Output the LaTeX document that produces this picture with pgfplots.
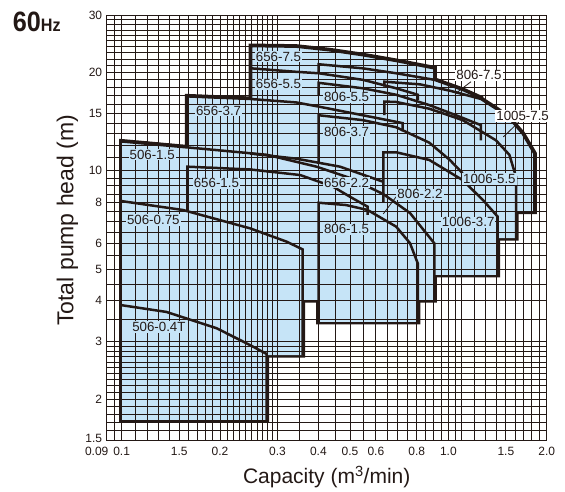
\documentclass[border=0pt]{standalone}
\usepackage{fontspec}
\setmainfont{Liberation Sans}
\usepackage{graphicx}
\usepackage{pgfplots}
\pgfplotsset{compat=1.18}
\usepackage{pgfplotstable}
\definecolor{fillb}{RGB}{198,228,247}
\definecolor{ink}{RGB}{35,24,21}
\pgfdeclarelayer{bgoutline}
\pgfdeclarelayer{bgfill}
\pgfplotsset{layers/mylayers/.define layer set={bgoutline,bgfill,axis background,axis grid,axis ticks,axis lines,axis tick labels,pre main,main,axis descriptions,axis foreground}{}}
\tikzset{lbl/.style={font=\fontsize{13.3}{14}\selectfont, text=ink, inner sep=1pt, fill=fillb}}

% ---------- operating regions (closed polygons) ----------
\pgfplotstableread{
x y
0.1 1.73
0.1 3.88
0.137 3.70
0.195 3.30
0.247 2.93
0.278 2.75
0.278 1.73
}\Ra
\pgfplotstableread{
x y
0.1 2.73
0.1 8.08
0.154 7.59
0.247 6.67
0.32 6.07
0.358 5.75
0.358 2.73
}\Rb
\pgfplotstableread{
x y
0.1 4.02
0.1 12.3
0.174 11.7
0.278 11.2
0.395 10.3
0.5 9.51
0.632 8.49
0.763 7.43
0.906 6.0
0.906 4.02
}\Rc
\pgfplotstableread{
x y
0.159 5.0
0.159 16.9
0.247 16.6
0.342 16.2
0.405 15.7
0.547 14.8
0.725 14.0
0.725 5.0
}\Rd
\pgfplotstableread{
x y
0.249 5.0
0.249 24.1
0.342 24.0
0.432 23.4
0.547 22.6
0.692 21.7
0.906 20.6
0.906 5.0
}\Re
\pgfplotstableread{
x y
0.401 5.0
0.401 21.2
0.547 20.6
0.692 19.9
0.906 19.0
1.106 17.7
1.258 16.7
1.258 5.0
}\Rf
\pgfplotstableread{
x y
0.637 7.5
0.637 18.75
0.819 18.4
1.01 17.6
1.258 16.6
1.399 15.5
1.537 14.5
1.688 13.0
1.833 11.3
1.833 7.5
}\Rg
\pgfplotstableread{
x y
0.637 6.22
0.637 16.3
0.692 16.25
0.874 15.5
1.106 14.3
1.399 12.4
1.537 11.2
1.611 9.6
1.611 6.22
}\Rh
\pgfplotstableread{
x y
0.632 4.8
0.632 11.4
0.692 11.4
0.874 10.8
1.106 9.37
1.276 8.14
1.416 7.24
1.416 4.8
}\Ri
\pgfplotstableread{
x y
0.401 3.45
0.401 7.99
0.486 7.86
0.566 7.59
0.692 6.75
0.763 6.01
0.806 5.21
0.806 3.45
}\Rj
\pgfplotstableread{
x y
0.247 9.0
0.247 11.3
0.342 10.9
0.466 10.3
0.632 9.26
0.632 9.0
}\Rk

\begin{document}
\begin{tikzpicture}
\begin{axis}[
  set layers=mylayers,
  at={(0,0)}, anchor=south west,
  scale only axis, width=440pt, height=425pt,
  xmode=log, ymode=log,
  xmin=0.09, xmax=2.0, ymin=1.5, ymax=30,
  xtick={0.09,0.1,0.15,0.2,0.3,0.4,0.5,0.6,0.8,1.0,1.5,2.0},
  xticklabels={{\hspace*{-20pt}0.09},0.1,1.5,0.2,0.3,0.4,0.5,0.6,0.8,1.0,1.5,2.0},
  ytick={1.5,2,3,4,5,6,8,10,15,20,30},
  yticklabels={{\raisebox{2.5pt}{1.5}},2,3,4,5,6,8,10,15,20,30},
  minor xtick={0.095,0.11,0.12,0.13,0.14,0.16,0.17,0.18,0.19,0.21,0.22,0.23,0.24,0.25,0.26,0.27,0.28,0.29,0.35,0.45,0.55,0.65,0.7,0.75,0.85,0.9,0.95,1.05,1.1,1.2,1.3,1.4,1.6,1.7,1.8,1.9},
  minor ytick={1.6,1.7,1.8,1.9,2.1,2.2,2.3,2.4,2.5,2.6,2.7,2.8,2.9,3.5,4.5,5.5,6.5,7,7.5,8.5,9,9.5,11,12,13,14,16,17,18,19,21,22,23,24,25,26,27,28,29},
  grid=both,
  major grid style={draw=ink, line width=0.8pt},
  minor grid style={draw=ink, line width=0.8pt},
  major tick length=0pt, minor tick length=0pt,
  axis line style={draw=ink, line width=0.9pt},
  tick label style={font=\fontsize{12}{13}\selectfont, text=ink},
  xticklabel style={yshift=-3.5pt},
  yticklabel style={xshift=-1pt},
  xlabel={Capacity (m\textsuperscript{3}/min)},
  ylabel={Total pump head (m)},
  xlabel style={font=\fontsize{21}{23}\selectfont, text=ink, at={(axis description cs:0.5,-0.087)}, anchor=center},
  ylabel style={font=\fontsize{23}{25}\selectfont, text=ink, at={(axis description cs:-0.089,0.517)}, anchor=center},
  clip=false,
]
% --- outer outline (doubled width, inner half hidden by fills) ---
\addplot[on layer=bgoutline, draw=ink, line width=5pt, line join=miter, mark=none] table {\Ra} -- cycle;
\addplot[on layer=bgoutline, draw=ink, line width=5pt, line join=miter, mark=none] table {\Rb} -- cycle;
\addplot[on layer=bgoutline, draw=ink, line width=5pt, line join=miter, mark=none] table {\Rc} -- cycle;
\addplot[on layer=bgoutline, draw=ink, line width=5pt, line join=miter, mark=none] table {\Rd} -- cycle;
\addplot[on layer=bgoutline, draw=ink, line width=5pt, line join=miter, mark=none] table {\Re} -- cycle;
\addplot[on layer=bgoutline, draw=ink, line width=5pt, line join=miter, mark=none] table {\Rf} -- cycle;
\addplot[on layer=bgoutline, draw=ink, line width=5pt, line join=miter, mark=none] table {\Rg} -- cycle;
\addplot[on layer=bgoutline, draw=ink, line width=5pt, line join=miter, mark=none] table {\Rh} -- cycle;
\addplot[on layer=bgoutline, draw=ink, line width=5pt, line join=miter, mark=none] table {\Ri} -- cycle;
\addplot[on layer=bgoutline, draw=ink, line width=5pt, line join=miter, mark=none] table {\Rj} -- cycle;
\addplot[on layer=bgoutline, draw=ink, line width=5pt, line join=miter, mark=none] table {\Rk} -- cycle;
% --- fills ---
\addplot[on layer=bgfill, fill=fillb, draw=none, mark=none] table {\Ra} -- cycle;
\addplot[on layer=bgfill, fill=fillb, draw=none, mark=none] table {\Rb} -- cycle;
\addplot[on layer=bgfill, fill=fillb, draw=none, mark=none] table {\Rc} -- cycle;
\addplot[on layer=bgfill, fill=fillb, draw=none, mark=none] table {\Rd} -- cycle;
\addplot[on layer=bgfill, fill=fillb, draw=none, mark=none] table {\Re} -- cycle;
\addplot[on layer=bgfill, fill=fillb, draw=none, mark=none] table {\Rf} -- cycle;
\addplot[on layer=bgfill, fill=fillb, draw=none, mark=none] table {\Rg} -- cycle;
\addplot[on layer=bgfill, fill=fillb, draw=none, mark=none] table {\Rh} -- cycle;
\addplot[on layer=bgfill, fill=fillb, draw=none, mark=none] table {\Ri} -- cycle;
\addplot[on layer=bgfill, fill=fillb, draw=none, mark=none] table {\Rj} -- cycle;
\addplot[on layer=bgfill, fill=fillb, draw=none, mark=none] table {\Rk} -- cycle;

% --- pump curves and edges ---
\addplot[draw=ink, line width=2.5pt, mark=none] coordinates {(0.1,3.88) (0.137,3.70) (0.195,3.30) (0.247,2.93) (0.278,2.75) (0.278,1.73)};
\addplot[draw=ink, line width=2.5pt, mark=none] coordinates {(0.1,8.08) (0.154,7.59) (0.247,6.67) (0.32,6.07) (0.358,5.75) (0.358,2.73)};
\addplot[draw=ink, line width=2.5pt, mark=none] coordinates {(0.1,12.3) (0.174,11.7) (0.278,11.2) (0.395,10.3) (0.5,9.51) (0.632,8.49) (0.763,7.43) (0.906,6.0) (0.906,4.02)};
\addplot[draw=ink, line width=2.5pt, mark=none] coordinates {(0.159,7.55) (0.159,10.3) (0.247,10.1) (0.352,9.71) (0.444,8.94) (0.5,8.33) (0.566,7.77) (0.566,7.33)};
\addplot[draw=ink, line width=2.5pt, mark=none] coordinates {(0.247,11.3) (0.342,10.9) (0.466,10.3) (0.632,9.26)};
\addplot[draw=ink, line width=2.5pt, mark=none] coordinates {(0.159,11.85) (0.159,16.9) (0.247,16.6) (0.342,16.2) (0.405,15.7) (0.547,14.8) (0.725,14.0) (0.725,13.2)};
\addplot[draw=ink, line width=2.5pt, mark=none] coordinates {(0.249,16.6) (0.249,20.6) (0.342,20.1) (0.401,19.9) (0.547,19.0) (0.692,17.9) (0.806,17.1) (0.806,16.5)};
\addplot[draw=ink, line width=2.5pt, mark=none] coordinates {(0.249,20.6) (0.249,24.1) (0.342,24.0) (0.432,23.4) (0.547,22.6) (0.692,21.7) (0.906,20.6) (0.906,19.0)};
\addplot[draw=ink, line width=2.5pt, mark=none] coordinates {(0.401,19.9) (0.401,21.2) (0.547,20.6) (0.692,19.9) (0.906,19.0) (1.106,17.7) (1.258,16.7)};
\addplot[draw=ink, line width=2.5pt, mark=none] coordinates {(0.637,18.1) (0.637,18.75) (0.819,18.4) (1.01,17.6) (1.258,16.6) (1.399,15.5) (1.537,14.5) (1.688,13.0) (1.833,11.3) (1.833,7.5)};
\addplot[draw=ink, line width=2.5pt, mark=none] coordinates {(0.401,17.1) (0.401,18.6) (0.547,17.9) (0.692,17.1) (0.874,15.9) (1.056,14.8) (1.258,13.8) (1.258,12.4)};
\addplot[draw=ink, line width=2.5pt, mark=none] coordinates {(0.637,14.8) (0.637,16.3) (0.692,16.25) (0.874,15.5) (1.106,14.3) (1.399,12.4) (1.537,11.2) (1.611,9.6) (1.611,6.22)};
\addplot[draw=ink, line width=2.5pt, mark=none] coordinates {(0.401,10.6) (0.401,14.8) (0.547,14.3) (0.692,13.6) (0.874,12.2) (1.01,10.8) (1.106,9.83)};
\addplot[draw=ink, line width=2.5pt, mark=none] coordinates {(0.632,8.0) (0.632,11.4) (0.692,11.4) (0.874,10.8) (1.106,9.37) (1.276,8.14) (1.416,7.24) (1.416,4.8)};
\addplot[draw=ink, line width=2.5pt, mark=none] coordinates {(0.401,3.45) (0.401,7.99) (0.486,7.86) (0.566,7.59) (0.692,6.75) (0.763,6.01) (0.806,5.21) (0.806,3.45)};
% leaders
\addplot[draw=ink, line width=0.8pt, mark=none] coordinates {(1.173,18.75) (1.056,17.3)};
\addplot[draw=ink, line width=0.8pt, mark=none] coordinates {(1.642,14.1) (1.473,12.7)};
\addplot[draw=ink, line width=0.8pt, mark=none] coordinates {(0.692,8.33) (0.632,7.38)};

% labels
\node[lbl] at (axis cs:0.124,11.2) {506-1.5};
\node[lbl] at (axis cs:0.195,9.16) {656-1.5};
\node[lbl] at (axis cs:0.125,7.07) {506-0.75};
\node[lbl] at (axis cs:0.130,3.33) {506-0.4T};
\node[lbl] at (axis cs:0.198,15.3) {656-3.7};
\node[lbl] at (axis cs:0.302,18.4) {656-5.5};
\node[lbl] at (axis cs:0.302,22.4) {656-7.5};
\node[lbl] at (axis cs:0.488,16.8) {806-5.5};
\node[lbl] at (axis cs:0.488,13.2) {806-3.7};
\node[lbl, fill=white] at (axis cs:1.241,19.6) {806-7.5};
\node[lbl, fill=white] at (axis cs:1.688,14.7) {1005-7.5};
\node[lbl] at (axis cs:1.335,9.45) {1006-5.5};
\node[lbl] at (axis cs:0.488,9.2) {656-2.2};
\node[lbl] at (axis cs:0.819,8.47) {806-2.2};
\node[lbl] at (axis cs:0.488,6.62) {806-1.5};
\node[lbl] at (axis cs:1.15,6.96) {1006-3.7};
\end{axis}
\node[anchor=base west, inner sep=0pt, text=ink, font=\bfseries\fontsize{28}{28}\selectfont] at (-94pt,408pt) {\scalebox{0.9}[1]{60\fontsize{18}{18}\selectfont Hz}};
\pgfresetboundingbox
\path (-106.7pt,-51pt) rectangle (458.3pt,440pt);
\end{tikzpicture}
\end{document}
